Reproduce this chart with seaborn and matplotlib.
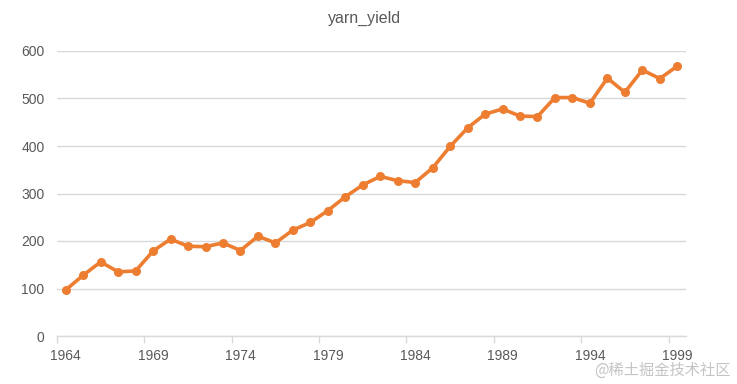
import numpy as np
import pandas as pd
import matplotlib
matplotlib.use("Agg")
import matplotlib.pyplot as plt
import seaborn as sns

years = list(range(1964, 2000))
yield_values = [97, 128, 156, 135, 137, 179, 204, 189, 188, 196, 180, 210,
                196, 223, 239, 264, 293, 318, 336, 327, 323, 354, 399, 438,
                467, 478, 463, 462, 502, 502, 490, 543, 513, 560, 542, 568]
tick_years = [1964, 1969, 1974, 1979, 1984, 1989, 1994, 1999]
y_ticks = [0, 100, 200, 300, 400, 500, 600]

sns.set_theme(style="white")
plt.rcParams['font.family'] = ['Liberation Sans', 'DejaVu Sans']

df = pd.DataFrame({"pos": np.arange(len(years)), "year": years, "yarn_yield": yield_values})

fig = plt.figure(figsize=(7.37, 3.84), dpi=100)
ax = fig.add_axes([57/737, (384-336)/384, (686-57)/737, (336-51)/384])

sns.lineplot(data=df, x="pos", y="yarn_yield", ax=ax, color="#ED7D31",
             linewidth=2.6, marker="o", markersize=6.5, markeredgewidth=0,
             markerfacecolor="#ED7D31")

ax.set_xlim(-0.5, len(years) - 0.5)
ax.set_ylim(0, 600)
ax.set_yticks(y_ticks)
ax.set_yticklabels([str(v) for v in y_ticks])
tick_pos = [years.index(y) for y in tick_years]
ax.set_xticks(tick_pos)
ax.set_xticklabels([str(y) for y in tick_years])
ax.set_xticks([p - 0.5 for p in tick_pos], minor=True)
ax.tick_params(axis="x", which="major", length=0, pad=9, labelsize=10, labelcolor="#595959")
ax.tick_params(axis="x", which="minor", length=5, width=1, color="#D9D9D9", bottom=True)
ax.tick_params(axis="y", length=0, pad=9, labelsize=10, labelcolor="#595959")

ax.grid(axis="y", color="#D9D9D9", linewidth=1)
ax.set_axisbelow(True)
for s in ["left", "right", "top"]:
    ax.spines[s].set_visible(False)
ax.spines["bottom"].set_color("#D9D9D9")
ax.spines["bottom"].set_linewidth(1)
ax.set_xlabel("")
ax.set_ylabel("")

fig.text(365/737, 1 - 18/384, "yarn_yield", ha="center", va="center",
         fontsize=11.5, color="#595959")
fig.text(731/737, 1 - 370/384, "@稀土掘金技术社区", ha="right", va="center",
         fontsize=11, color="#C4C4C4", family=["Noto Sans CJK SC", "DejaVu Sans"])

fig.savefig("out.png", dpi=100)
